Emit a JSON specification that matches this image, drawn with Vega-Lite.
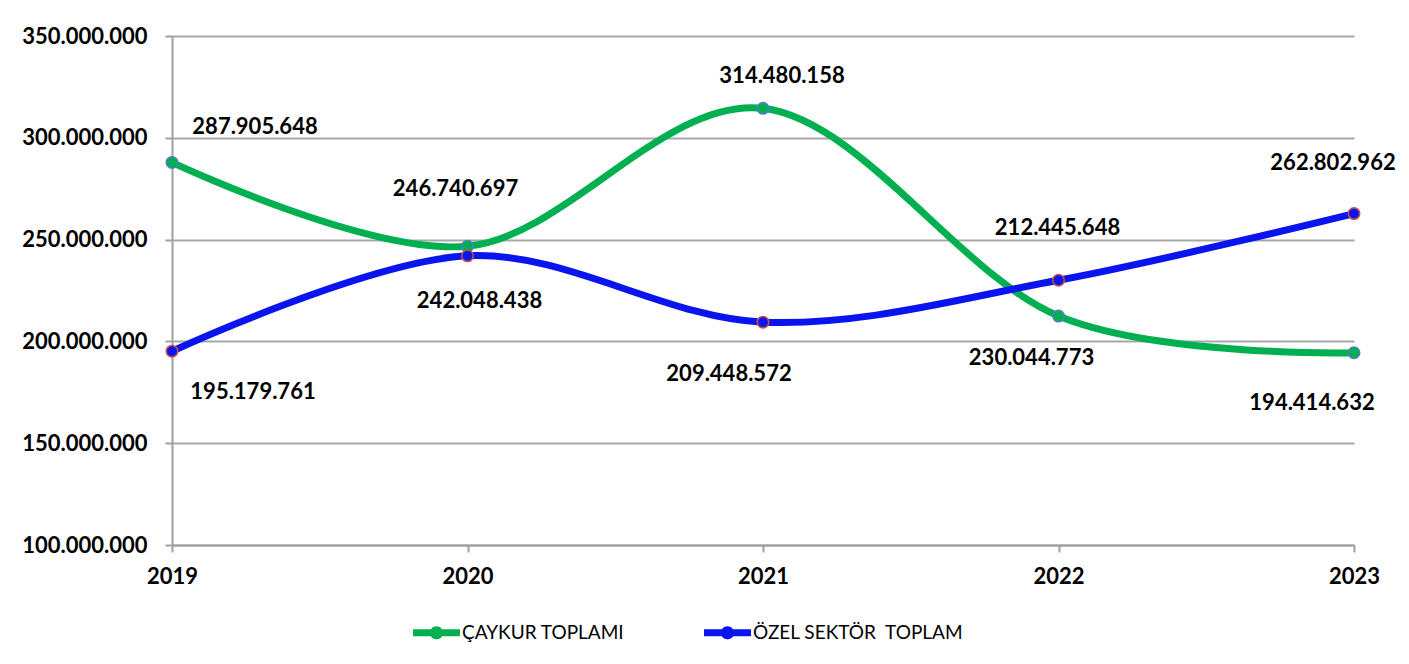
{
  "$schema": "https://vega.github.io/schema/vega-lite/v6.json",
  "width": 1182,
  "height": 509,
  "autosize": {"type": "none"},
  "padding": {"left": 172, "top": 36, "right": 55, "bottom": 119},
  "background": "white",
  "data": {
    "values": [
      {"year": 2019, "series": "ÇAYKUR TOPLAMI", "value": 287905648},
      {"year": 2020, "series": "ÇAYKUR TOPLAMI", "value": 246740697},
      {"year": 2021, "series": "ÇAYKUR TOPLAMI", "value": 314480158},
      {"year": 2022, "series": "ÇAYKUR TOPLAMI", "value": 212445648},
      {"year": 2023, "series": "ÇAYKUR TOPLAMI", "value": 194414632},
      {"year": 2019, "series": "ÖZEL SEKTÖR\u00a0 TOPLAM", "value": 195179761},
      {"year": 2020, "series": "ÖZEL SEKTÖR\u00a0 TOPLAM", "value": 242048438},
      {"year": 2021, "series": "ÖZEL SEKTÖR\u00a0 TOPLAM", "value": 209448572},
      {"year": 2022, "series": "ÖZEL SEKTÖR\u00a0 TOPLAM", "value": 230044773},
      {"year": 2023, "series": "ÖZEL SEKTÖR\u00a0 TOPLAM", "value": 262802962}
    ]
  },
  "encoding": {
    "x": {
      "field": "year", "type": "ordinal",
      "scale": {"type": "point", "padding": 0},
      "axis": {"title": null, "labelAngle": 0, "grid": false, "labelPadding": 14, "labelBaseline": "top"}
    },
    "y": {
      "field": "value", "type": "quantitative",
      "scale": {"domain": [100000000, 350000000], "nice": false, "zero": false},
      "axis": {"title": null, "values": [100000000, 150000000, 200000000, 250000000, 300000000, 350000000], "format": ",d", "labelPadding": 18, "grid": true}
    }
  },
  "layer": [
    {
      "mark": {"type": "line", "interpolate": "cardinal", "strokeWidth": 7},
      "encoding": {
        "color": {
          "field": "series", "type": "nominal",
          "scale": {"domain": ["ÇAYKUR TOPLAMI", "ÖZEL SEKTÖR\u00a0 TOPLAM"], "range": ["#00B050", "#0A14EE"]},
          "legend": {
            "orient": "none", "legendX": 241, "legendY": 573, "direction": "horizontal", "title": null,
            "symbolType": "M-1,-0.15L1,-0.15L1,0.15L-1,0.15ZM0.28,0A0.28,0.28,0,1,1,-0.28,0A0.28,0.28,0,1,1,0.28,0Z",
            "symbolSize": 2209, "symbolStrokeWidth": 0,
            "labelFont": "Lato", "labelFontSize": 19, "labelColor": "#000000", "labelOffset": 2, "labelLimit": 500,
            "columnPadding": 79, "padding": 0,
            "encode": {"symbols": {"update": {"fill": {"scale": "color", "field": "value"}, "strokeWidth": {"value": 0}, "opacity": {"value": 1}}}}
          }
        }
      }
    },
    {
      "mark": {"type": "point", "filled": true, "size": 130, "strokeWidth": 1.6, "opacity": 1},
      "encoding": {
        "fill": {
          "field": "series", "type": "nominal",
          "scale": {"domain": ["ÇAYKUR TOPLAMI", "ÖZEL SEKTÖR\u00a0 TOPLAM"], "range": ["#00B050", "#0A14EE"]},
          "legend": null
        },
        "stroke": {
          "field": "series", "type": "nominal",
          "scale": {"domain": ["ÇAYKUR TOPLAMI", "ÖZEL SEKTÖR\u00a0 TOPLAM"], "range": ["#4F81BD", "#C0504D"]},
          "legend": null
        }
      }
    },
    {"transform": [{"filter": {"and": [{"field": "year", "equal": 2019}, {"field": "series", "equal": "ÇAYKUR TOPLAMI"}]}}], "mark": {"type": "text", "dx": 83, "dy": -35}, "encoding": {"text": {"field": "value", "type": "quantitative", "format": ",d"}}},
    {"transform": [{"filter": {"and": [{"field": "year", "equal": 2019}, {"field": "series", "equal": "ÖZEL SEKTÖR\u00a0 TOPLAM"}]}}], "mark": {"type": "text", "dx": 81, "dy": 41}, "encoding": {"text": {"field": "value", "type": "quantitative", "format": ",d"}}},
    {"transform": [{"filter": {"and": [{"field": "year", "equal": 2020}, {"field": "series", "equal": "ÇAYKUR TOPLAMI"}]}}], "mark": {"type": "text", "dx": -12, "dy": -57}, "encoding": {"text": {"field": "value", "type": "quantitative", "format": ",d"}}},
    {"transform": [{"filter": {"and": [{"field": "year", "equal": 2020}, {"field": "series", "equal": "ÖZEL SEKTÖR\u00a0 TOPLAM"}]}}], "mark": {"type": "text", "dx": 12, "dy": 45}, "encoding": {"text": {"field": "value", "type": "quantitative", "format": ",d"}}},
    {"transform": [{"filter": {"and": [{"field": "year", "equal": 2021}, {"field": "series", "equal": "ÇAYKUR TOPLAMI"}]}}], "mark": {"type": "text", "dx": 19, "dy": -32}, "encoding": {"text": {"field": "value", "type": "quantitative", "format": ",d"}}},
    {"transform": [{"filter": {"and": [{"field": "year", "equal": 2021}, {"field": "series", "equal": "ÖZEL SEKTÖR\u00a0 TOPLAM"}]}}], "mark": {"type": "text", "dx": -34, "dy": 52}, "encoding": {"text": {"field": "value", "type": "quantitative", "format": ",d"}}},
    {"transform": [{"filter": {"and": [{"field": "year", "equal": 2022}, {"field": "series", "equal": "ÇAYKUR TOPLAMI"}]}}], "mark": {"type": "text", "dx": -1, "dy": -88}, "encoding": {"text": {"field": "value", "type": "quantitative", "format": ",d"}}},
    {"transform": [{"filter": {"and": [{"field": "year", "equal": 2022}, {"field": "series", "equal": "ÖZEL SEKTÖR\u00a0 TOPLAM"}]}}], "mark": {"type": "text", "dx": -27, "dy": 78}, "encoding": {"text": {"field": "value", "type": "quantitative", "format": ",d"}}},
    {"transform": [{"filter": {"and": [{"field": "year", "equal": 2023}, {"field": "series", "equal": "ÇAYKUR TOPLAMI"}]}}], "mark": {"type": "text", "dx": -42, "dy": 50}, "encoding": {"text": {"field": "value", "type": "quantitative", "format": ",d"}}},
    {"transform": [{"filter": {"and": [{"field": "year", "equal": 2023}, {"field": "series", "equal": "ÖZEL SEKTÖR\u00a0 TOPLAM"}]}}], "mark": {"type": "text", "dx": -21, "dy": -51}, "encoding": {"text": {"field": "value", "type": "quantitative", "format": ",d"}}}
  ],
  "config": {
    "locale": {"number": {"decimal": ",", "thousands": ".", "grouping": [3], "currency": ["", ""]}},
    "view": {"stroke": null},
    "axis": {
      "domainColor": "#A0A0A0", "domainWidth": 2,
      "tickColor": "#A0A0A0", "tickWidth": 2, "tickSize": 7,
      "gridColor": "#A8A8A8", "gridWidth": 2,
      "labelFont": "Lato", "labelFontSize": 22, "labelFontWeight": "bold", "labelColor": "#000000"
    },
    "text": {"font": "Lato", "fontSize": 22, "fontWeight": "bold", "color": "#000000", "align": "center", "baseline": "middle"}
  }
}
